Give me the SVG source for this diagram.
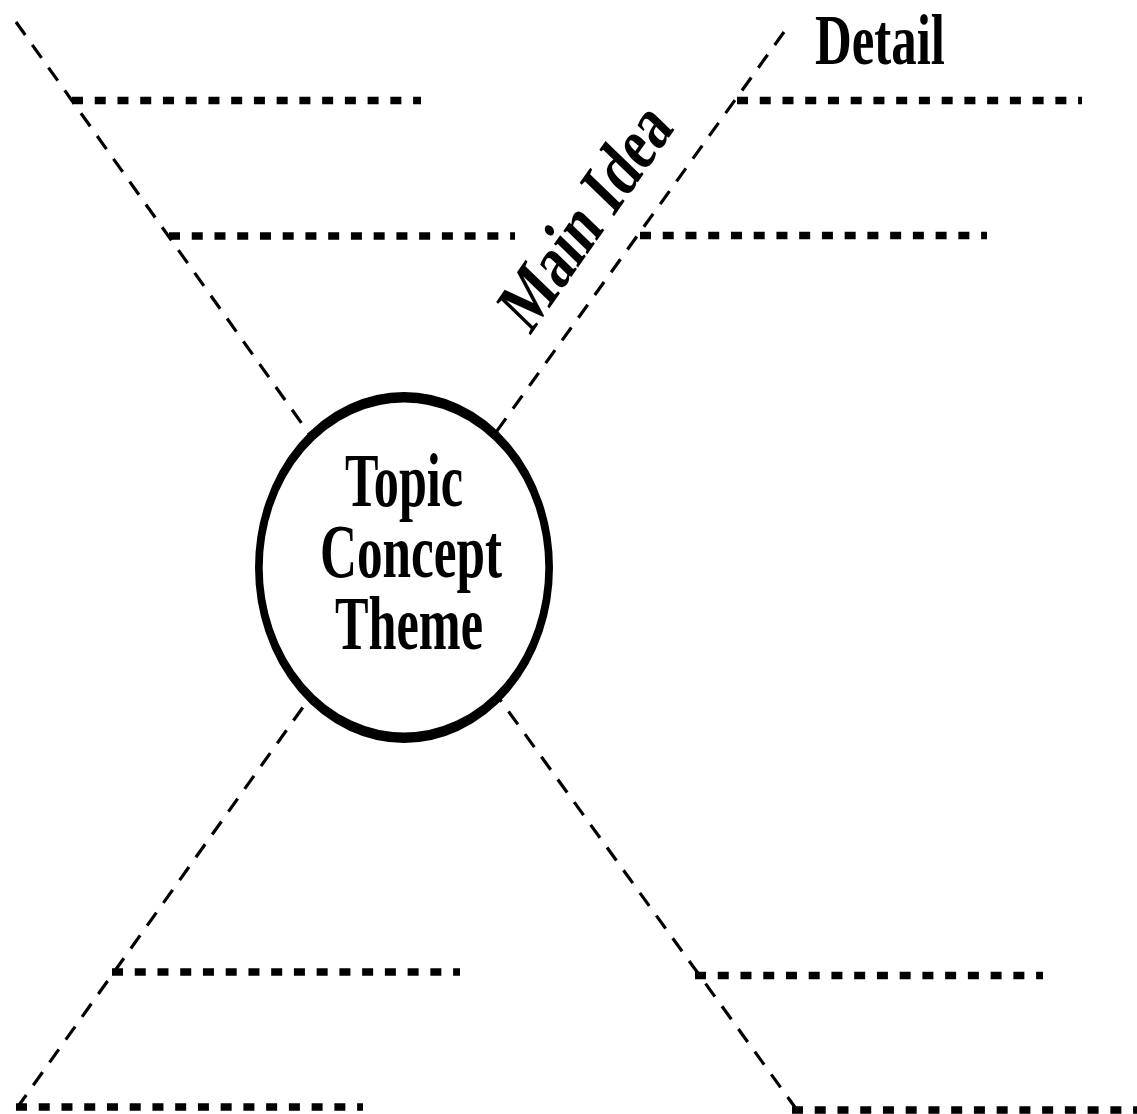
<svg xmlns="http://www.w3.org/2000/svg" width="1137" height="1114" viewBox="0 0 1137 1114">
<style>
.bg{fill:#ffffff}
.diag{fill:none;stroke:#000;stroke-width:3.2;stroke-dasharray:16 12}
.rule{fill:none;stroke:#000;stroke-width:7.3;stroke-dasharray:11 11.74}
.lbl{font-family:"Liberation Serif","Times New Roman",serif;font-weight:bold;font-size:76px;fill:#000}
</style>
<rect class="bg" x="0" y="0" width="1137" height="1114"/>
<g id="connectors">
<path class="diag" d="M16 22 L404 567"/>
<path class="diag" d="M784 32 L399 567"/>
<path class="diag" d="M17 1108 L403 567"/>
<path class="diag" d="M797 1110 L404 567"/>
<path class="rule" d="M72 100.5 H421"/>
<path class="rule" d="M169 236 H515"/>
<path class="rule" d="M737 100.5 H1082"/>
<path class="rule" d="M640 235.5 H987"/>
<path class="rule" d="M112 972 H460"/>
<path class="rule" d="M16 1107 H363"/>
<path class="rule" d="M695 975.5 H1043"/>
<path class="rule" d="M792 1110 H1137"/>
</g>
<g id="topic">
<g transform="translate(404,567.5) scale(0.733,1)">
<ellipse cx="0" cy="0" rx="198" ry="170.25" fill="#fff" stroke="#000" stroke-width="10.5"/>
</g>
<text class="lbl" x="345" y="506" textLength="118" lengthAdjust="spacingAndGlyphs">Topic</text>
<text class="lbl" x="320" y="577" textLength="182" lengthAdjust="spacingAndGlyphs">Concept</text>
<text class="lbl" x="335" y="649" textLength="148" lengthAdjust="spacingAndGlyphs">Theme</text>
</g>
<g id="detail-label">
<text class="lbl" x="815" y="64" style="font-size:71px" textLength="130" lengthAdjust="spacingAndGlyphs">Detail</text>
</g>
<g id="main-idea-label">
<text class="lbl" transform="translate(530,336) scale(0.85,1) rotate(-50.5)" x="0" y="0" style="font-size:80px" textLength="268" lengthAdjust="spacingAndGlyphs">Main Idea</text>
</g>
</svg>
